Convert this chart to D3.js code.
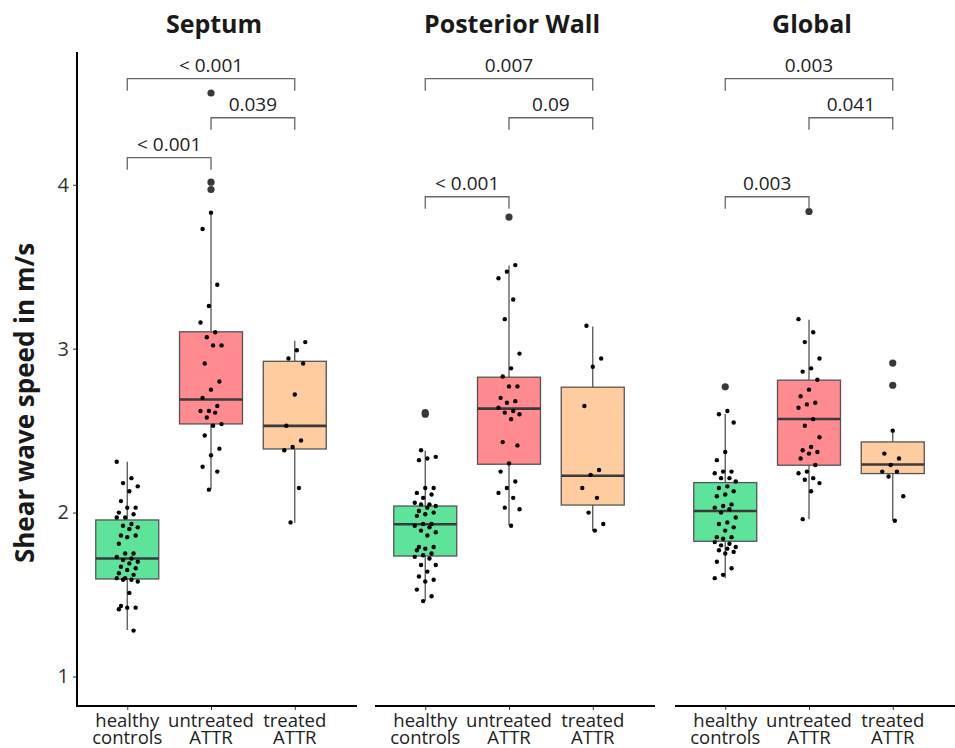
<!DOCTYPE html>
<html>
<head>
<meta charset="utf-8">
<script src="https://cdn.jsdelivr.net/npm/d3@7"></script>
<style>
  body { margin: 0; background: #fff; }
  text { font-family: "Open Sans", "Noto Sans", sans-serif; fill: #1a1a1a; }
</style>
</head>
<body>
<div id="chart"></div>
<script>
// panels and groups
var panels = ["Septum", "Posterior Wall", "Global"];
var groups = ["healthy controls", "untreated ATTR", "treated ATTR"];
var groupLabels = [["healthy", "controls"], ["untreated", "ATTR"], ["treated", "ATTR"]];
var yTicks = [1, 2, 3, 4];

// box summaries: [lower whisker, q1, median, q3, upper whisker]
var boxSeptum = [[1.283, 1.595, 1.72, 1.955, 2.31], [2.144, 2.541, 2.69, 3.103, 3.833], [1.938, 2.388, 2.529, 2.923, 3.049]];
var boxWall   = [[1.462, 1.735, 1.929, 2.04, 2.378], [1.922, 2.295, 2.634, 2.826, 3.507], [1.888, 2.046, 2.225, 2.765, 3.135]];
var boxGlobal = [[1.599, 1.825, 2.01, 2.183, 2.602], [1.959, 2.289, 2.571, 2.808, 3.176], [1.951, 2.238, 2.293, 2.431, 2.50]];

// outliers
var outSeptum = [[], [3.971, 4.016, 4.56], []];
var outWall   = [[2.60, 2.61], [3.803], []];
var outGlobal = [[2.767], [3.837], [2.777, 2.912]];

// individual measurements
var septumHealthy = [2.31, 2.21, 2.18, 2.16, 2.13, 2.07, 2.03, 2.03, 2.00, 1.99, 1.97, 1.97, 1.93, 1.92, 1.91, 1.90, 1.86, 1.86, 1.85, 1.81, 1.75, 1.75, 1.73, 1.72, 1.71, 1.70, 1.69, 1.67, 1.66, 1.65, 1.63, 1.62, 1.60, 1.60, 1.59, 1.59, 1.58, 1.51, 1.43, 1.42, 1.42, 1.41, 1.28];
var septumUntreated = [3.83, 3.73, 3.39, 3.26, 3.16, 3.10, 3.07, 3.02, 3.02, 2.91, 2.80, 2.75, 2.70, 2.65, 2.62, 2.62, 2.61, 2.58, 2.54, 2.53, 2.47, 2.39, 2.35, 2.28, 2.25, 2.14];
var septumTreated = [3.04, 2.99, 2.94, 2.91, 2.72, 2.53, 2.44, 2.40, 2.38, 2.15, 1.94];
var wallHealthy = [2.38, 2.34, 2.33, 2.32, 2.15, 2.15, 2.12, 2.11, 2.09, 2.06, 2.05, 2.05, 2.04, 2.03, 2.01, 2.00, 1.99, 1.98, 1.93, 1.93, 1.92, 1.91, 1.89, 1.88, 1.86, 1.79, 1.79, 1.78, 1.77, 1.75, 1.74, 1.73, 1.72, 1.68, 1.68, 1.64, 1.61, 1.59, 1.58, 1.53, 1.49, 1.46];
var wallUntreated = [3.51, 3.47, 3.43, 3.30, 3.18, 2.97, 2.88, 2.83, 2.77, 2.77, 2.70, 2.68, 2.67, 2.64, 2.62, 2.61, 2.60, 2.57, 2.43, 2.41, 2.30, 2.25, 2.19, 2.15, 2.12, 2.09, 2.03, 2.02, 1.92];
var wallTreated = [3.14, 2.94, 2.89, 2.65, 2.26, 2.23, 2.15, 2.09, 2.00, 1.93, 1.89];
var globalHealthy = [2.62, 2.60, 2.55, 2.37, 2.32, 2.25, 2.25, 2.24, 2.21, 2.21, 2.19, 2.16, 2.15, 2.13, 2.11, 2.10, 2.05, 2.04, 2.03, 2.02, 2.00, 1.97, 1.94, 1.93, 1.91, 1.89, 1.85, 1.85, 1.84, 1.82, 1.81, 1.80, 1.79, 1.78, 1.77, 1.76, 1.75, 1.70, 1.66, 1.62, 1.60];
var globalUntreated = [3.18, 3.10, 3.04, 2.94, 2.88, 2.86, 2.81, 2.75, 2.71, 2.67, 2.66, 2.64, 2.57, 2.53, 2.46, 2.40, 2.38, 2.37, 2.36, 2.33, 2.29, 2.25, 2.24, 2.21, 2.20, 2.18, 2.13, 1.96];
var globalTreated = [2.50, 2.36, 2.33, 2.29, 2.25, 2.25, 2.22, 2.10, 1.95];

// significance brackets: [from group, to group, height, label]
var bracketSeptum = [[0, 2, 4.647, "< 0.001"], [1, 2, 4.409, "0.039"], [0, 1, 4.165, "< 0.001"]];
var bracketWall   = [[0, 2, 4.647, "0.007"], [1, 2, 4.409, "0.09"], [0, 1, 3.927, "< 0.001"]];
var bracketGlobal = [[0, 2, 4.647, "0.003"], [1, 2, 4.409, "0.041"], [0, 1, 3.927, "0.003"]];

var panelData = [
    {box: boxSeptum, out: outSeptum, pts: [septumHealthy, septumUntreated, septumTreated], br: bracketSeptum},
    {box: boxWall, out: outWall, pts: [wallHealthy, wallUntreated, wallTreated], br: bracketWall},
    {box: boxGlobal, out: outGlobal, pts: [globalHealthy, globalUntreated, globalTreated], br: bracketGlobal}
];

var fills = ["#5de39a", "#ff8a8f", "#ffcca0"];

var widthx = 955;
var heighty = 748;
var plotTop = 52, plotBottom = 706;
var panelLeft = [77, 375, 675];
var panelW = 280;

var svg = d3.select("#chart").append("svg")
    .attr("width", widthx)
    .attr("height", heighty);

var y = d3.scaleLinear().domain([0.82, 4.81]).range([plotBottom, plotTop]);

// y axis (only left panel)
var yAxis = svg.append("g")
    .attr("transform", "translate(" + panelLeft[0] + ",0)")
    .call(d3.axisLeft(y).tickValues(yTicks).tickFormat(d3.format("d")).tickSize(4).tickPadding(4));
yAxis.attr("font-family", null).attr("font-size", null);
yAxis.select(".domain").remove();
yAxis.selectAll("text").style("font-size", "20px").style("fill", "#333");
yAxis.selectAll(".tick line").attr("stroke", "#333");
svg.append("line")
    .attr("x1", panelLeft[0]).attr("x2", panelLeft[0])
    .attr("y1", plotTop).attr("y2", plotBottom + 1)
    .attr("stroke", "#000").attr("stroke-width", 2);

svg.append("text")
    .attr("transform", "translate(34," + 403 + ") rotate(-90)")
    .attr("text-anchor", "middle")
    .style("font-size", "26px")
    .style("font-weight", "bold")
    .text("Shear wave speed in m/s");

var boxW = 63;

panels.forEach(function(name, p) {
    var left = panelLeft[p];
    var d = panelData[p];
    var x = d3.scalePoint().domain(groups).range([left, left + panelW - 12]).padding(0.6);
    var g = svg.append("g");

    // title
    g.append("text")
        .attr("x", left + panelW / 2 - 3)
        .attr("y", 33)
        .attr("text-anchor", "middle")
        .style("font-size", "25px")
        .style("font-weight", "bold")
        .text(name);

    // x axis
    var xa = g.append("g")
        .attr("transform", "translate(0," + plotBottom + ")")
        .call(d3.axisBottom(x).tickSize(4).tickFormat(""));
    xa.select(".domain").remove();
    xa.selectAll(".tick line").attr("stroke", "#333");
    g.append("line")
        .attr("x1", left).attr("x2", left + panelW)
        .attr("y1", plotBottom).attr("y2", plotBottom)
        .attr("stroke", "#000").attr("stroke-width", 2);
    groups.forEach(function(grp, i) {
        var t = g.append("text")
            .attr("text-anchor", "middle")
            .attr("x", x(grp))
            .attr("y", 727)
            .style("font-size", "18.5px")
            .style("fill", "#222");
        t.append("tspan").attr("x", x(grp)).text(groupLabels[i][0]);
        t.append("tspan").attr("x", x(grp)).attr("dy", 16.5).text(groupLabels[i][1]);
    });

    // boxes
    groups.forEach(function(grp, i) {
        var b = d.box[i];
        var cx = x(grp);
        g.append("line")
            .attr("x1", cx).attr("x2", cx)
            .attr("y1", y(b[0])).attr("y2", y(b[1]))
            .attr("stroke", "#555").attr("stroke-width", 1.3);
        g.append("line")
            .attr("x1", cx).attr("x2", cx)
            .attr("y1", y(b[3])).attr("y2", y(b[4]))
            .attr("stroke", "#555").attr("stroke-width", 1.3);
        g.append("rect")
            .attr("x", cx - boxW / 2).attr("width", boxW)
            .attr("y", y(b[3])).attr("height", y(b[1]) - y(b[3]))
            .attr("fill", fills[i])
            .attr("stroke", "#555").attr("stroke-width", 1.3);
        g.append("line")
            .attr("x1", cx - boxW / 2).attr("x2", cx + boxW / 2)
            .attr("y1", y(b[2])).attr("y2", y(b[2]))
            .attr("stroke", "#3a3a3a").attr("stroke-width", 2.6);

        // outliers
        g.selectAll(null).data(d.out[i]).enter().append("circle")
            .attr("cx", cx).attr("cy", function(v) { return y(v); })
            .attr("r", 3.6).attr("fill", "#383838");

        // jittered points, fixed deterministic spread
        g.selectAll(null).data(d.pts[i]).enter().append("circle")
            .attr("cx", function(v, k) { return cx + (((k * 7 + p * 3 + i * 5) % 11) - 5) * 2.1; })
            .attr("cy", function(v) { return y(v); })
            .attr("r", 2.2).attr("fill", "#000");
    });

    // significance brackets
    d.br.forEach(function(br) {
        var x1 = x(groups[br[0]]), x2 = x(groups[br[1]]);
        var yy = y(br[2]), tip = 12;
        g.append("path")
            .attr("d", "M" + x1 + "," + (yy + tip) + "V" + yy + "H" + x2 + "V" + (yy + tip))
            .attr("fill", "none").attr("stroke", "#666").attr("stroke-width", 1.3);
        g.append("text")
            .attr("x", (x1 + x2) / 2)
            .attr("y", yy - 7)
            .attr("text-anchor", "middle")
            .style("font-size", "19px")
            .style("fill", "#222")
            .text(br[3]);
    });
});
</script>
</body>
</html>
